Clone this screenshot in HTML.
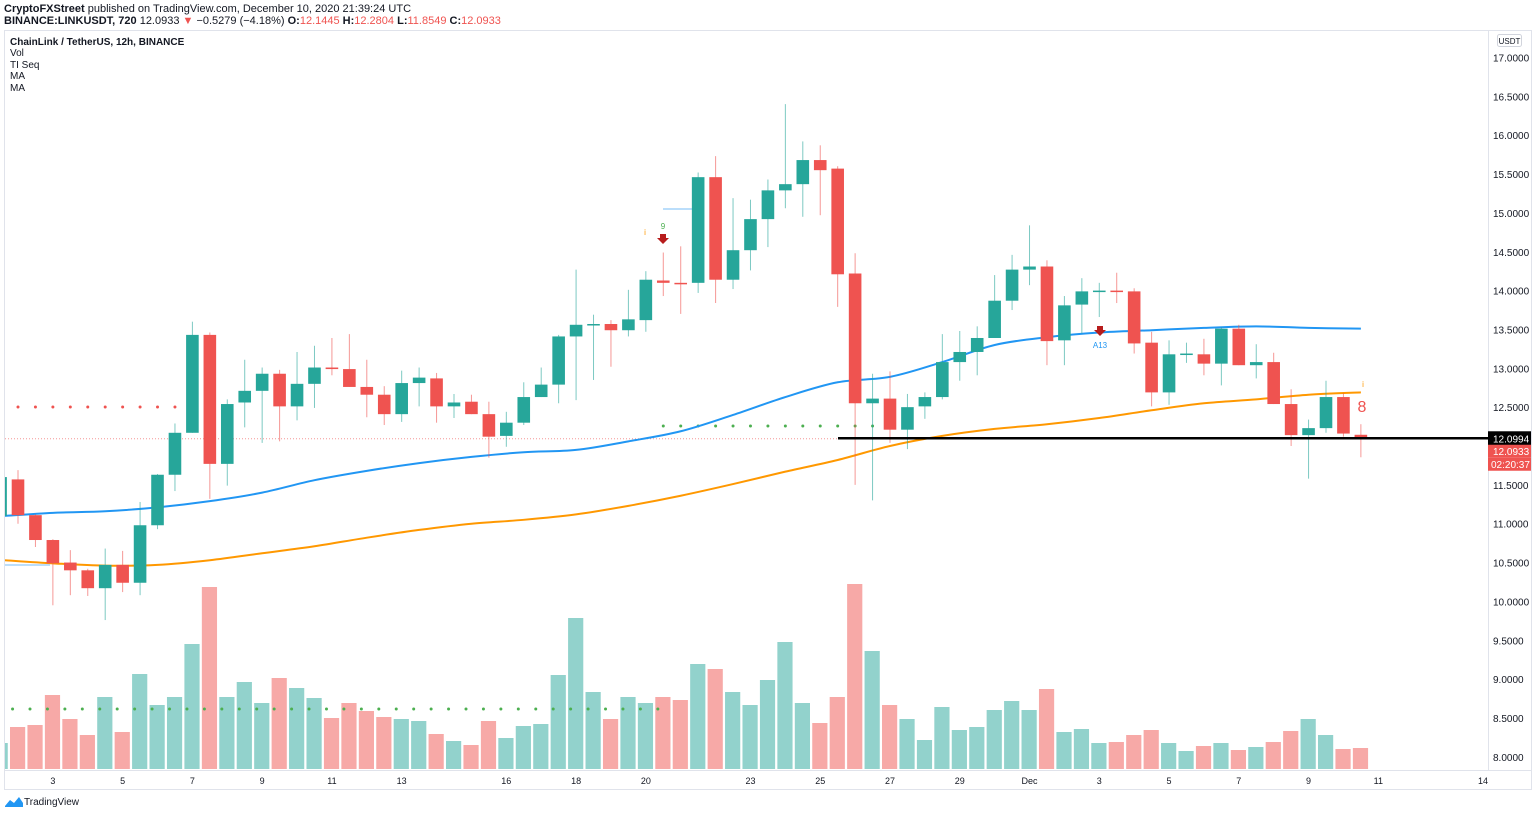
<!DOCTYPE html>
<html><head><meta charset="utf-8">
<style>
html,body{margin:0;padding:0;background:#fff;width:1536px;height:814px;overflow:hidden;font-family:"Liberation Sans",sans-serif;}
svg{display:block}
</style></head>
<body>
<svg id="chart" width="1536" height="814" xmlns="http://www.w3.org/2000/svg" font-family="Liberation Sans, sans-serif">
  <defs><clipPath id="pane"><rect x="5" y="31" width="1483" height="739"/></clipPath></defs>
  <text x="4" y="12" font-size="11" fill="#131722"><tspan font-weight="bold">CryptoFXStreet</tspan> published on TradingView.com, December 10, 2020 21:39:24 UTC</text>
  <text x="4" y="24" font-size="11" fill="#131722"><tspan font-weight="bold">BINANCE:LINKUSDT, 720</tspan> 12.0933 <tspan fill="#ef5350">▼</tspan> −0.5279 (−4.18%) <tspan font-weight="bold">O:</tspan><tspan fill="#ef5350">12.1445</tspan> <tspan font-weight="bold">H:</tspan><tspan fill="#ef5350">12.2804</tspan> <tspan font-weight="bold">L:</tspan><tspan fill="#ef5350">11.8549</tspan> <tspan font-weight="bold">C:</tspan><tspan fill="#ef5350">12.0933</tspan></text>
  <rect x="4.5" y="30.5" width="1527" height="759" fill="none" stroke="#e0e3eb"/>
  <line x1="1488.5" y1="30" x2="1488.5" y2="770" stroke="#e0e3eb"/>
  <line x1="4" y1="770.5" x2="1531" y2="770.5" stroke="#e0e3eb"/>
  <text x="10" y="45" font-size="10" font-weight="bold" fill="#131722">ChainLink / TetherUS, 12h, BINANCE</text>
  <text x="10" y="56" font-size="10" fill="#131722">Vol</text>
  <text x="10" y="68" font-size="10" fill="#131722">TI Seq</text>
  <text x="10" y="79" font-size="10" fill="#131722">MA</text>
  <text x="10" y="91" font-size="10" fill="#131722">MA</text>
  <rect x="1497.5" y="34.5" width="24" height="12" rx="2" fill="#fff" stroke="#d1d4dc"/>
  <text x="1509.5" y="44" font-size="8" fill="#131722" text-anchor="middle">USDT</text>
  <g id="ticks"></g>
  <g id="vol" clip-path="url(#pane)"></g>
  <g id="ind" clip-path="url(#pane)"></g>
  <g id="ma" clip-path="url(#pane)"></g>
  <g id="candles" clip-path="url(#pane)"></g>
  <g id="overlay"></g>
  <g>
    <path d="M5 806 L10 800 L14 803 L19 797 L23 803 L23 807 L5 807 Z" fill="#2196f3"/>
    <text x="24" y="805" font-size="10" fill="#131722">TradingView</text>
  </g>
</svg>
<script>
const opens  = [11.10,11.57,11.11,10.79,10.50,10.40,10.17,10.47,10.24,10.98,11.63,12.17,13.43,11.77,12.56,12.71,12.93,12.51,12.80,13.01,12.99,12.76,12.66,12.41,12.81,12.87,12.51,12.57,12.41,12.13,12.30,12.63,12.79,13.41,13.56,13.57,13.49,13.62,14.13,14.10,14.10,15.46,14.14,14.52,14.92,15.29,15.37,15.68,15.57,14.22,12.55,12.61,12.21,12.51,12.63,13.08,13.21,13.39,13.87,14.27,14.31,13.36,13.82,13.99,14.00,13.99,13.33,12.69,13.18,13.18,13.06,13.51,13.04,13.08,12.54,12.14,12.23,12.63,12.1445];
const highs  = [11.65,11.69,11.12,10.80,10.66,10.42,10.68,10.65,11.28,11.64,12.29,13.60,13.46,12.60,13.11,13.01,12.98,13.21,13.29,13.39,13.44,13.11,12.77,12.97,13.01,12.94,12.67,12.66,12.57,12.44,12.82,13.01,13.43,14.27,13.69,13.62,14.01,14.25,14.49,14.57,15.52,15.73,15.19,15.17,15.43,16.40,15.92,15.87,15.60,14.48,12.93,12.96,12.67,12.69,13.44,13.48,13.54,14.20,14.46,14.84,14.39,13.93,14.16,14.10,14.23,14.03,13.47,13.36,13.33,13.38,13.53,13.56,13.31,13.20,12.73,12.34,12.84,12.68,12.2804];
const lows   = [11.05,11.00,10.70,9.95,10.08,10.07,9.76,10.12,10.08,10.93,11.42,12.17,11.32,11.49,12.24,12.04,12.06,12.33,12.49,12.91,12.76,12.37,12.27,12.31,12.51,12.30,12.36,12.41,11.85,11.99,12.27,12.63,12.55,12.59,12.85,13.02,13.41,13.47,13.93,13.70,13.97,13.84,14.02,14.26,14.56,15.06,14.95,14.97,13.79,11.50,11.30,12.04,11.96,12.35,12.60,12.84,12.91,13.39,13.75,14.07,13.04,13.04,13.45,13.66,13.84,13.19,12.51,12.53,13.07,12.91,12.78,13.04,12.87,12.54,12.00,11.58,12.17,12.12,11.8549];
const closes = [11.60,11.11,10.79,10.49,10.40,10.17,10.47,10.24,10.98,11.63,12.17,13.43,11.77,12.54,12.71,12.93,12.51,12.80,13.01,12.99,12.76,12.66,12.41,12.81,12.88,12.51,12.56,12.41,12.12,12.30,12.63,12.79,13.41,13.56,13.57,13.49,13.63,14.14,14.10,14.09,15.46,14.14,14.52,14.92,15.29,15.37,15.68,15.55,14.21,12.55,12.61,12.21,12.50,12.63,13.08,13.21,13.39,13.87,14.27,14.31,13.35,13.81,13.99,14.00,13.99,13.32,12.69,13.18,13.19,13.06,13.51,13.04,13.08,12.54,12.14,12.23,12.63,12.16,12.0933];
const volumes = [26,42,44,74,50,34,72,37,95,64,72,125,182,72,87,66,91,81,71,51,66,58,52,50,48,35,28,24,48,31,43,45,94,151,77,50,72,66,72,69,105,100,77,64,89,127,66,46,72,185,118,64,50,29,62,39,42,59,68,59,80,37,40,26,27,34,39,26,18,23,26,19,22,27,38,50,34,20,21];
const maIndex = [0,3,6,9,12,15,18,21,24,27,30,33,36,39,42,45,48,51,54,57,60,63,66,69,72,75,78];
const maFast = [11.10,11.14,11.16,11.21,11.29,11.40,11.56,11.68,11.78,11.86,11.92,11.95,12.06,12.19,12.40,12.63,12.82,12.89,13.08,13.30,13.40,13.46,13.49,13.52,13.54,13.52,13.51];
const maSlow = [10.53,10.49,10.46,10.47,10.53,10.62,10.71,10.82,10.92,11.00,11.05,11.12,11.23,11.36,11.51,11.67,11.82,12.00,12.13,12.22,12.28,12.36,12.46,12.55,12.60,12.66,12.69];
const priceTicks = [8,8.5,9,9.5,10,10.5,11,11.5,12,12.5,13,13.5,14,14.5,15,15.5,16,16.5,17];
const dayTicks = [3,5,7,9,11,13,16,18,20,23,25,27,29,31,33,35,37,39,41,44];
const dayLabels = ['3','5','7','9','11','13','16','18','20','23','25','27','29','Dec','3','5','7','9','11','14'];
const redDotIdx = [1,2,3,4,5,6,7,8,9,10];
const greenDotIdx = [38,39,40,41,42,43,44,45,46,47,48,49,50];
const volDotIdx = [0,1,2,3,4,5,6,7,8,9,10,11,12,13,14,15,16,17,18,19,20,21,22,23,24,25,26,27,28,29,30,31,32,33,34,35,36,37];
const lastPrice = 12.0933, linePrice = 12.0994;

const NS='http://www.w3.org/2000/svg';
const GREEN='#26a69a', RED='#ef5350';
function xC(k){return 0.56+17.44*k;}
function yP(p){return 446-(p-12)*77.7;}
function yV(v){return 769-v;}
function xDay(d){return xC(3)+(d-3)*34.88;}
function mk(tag,attrs,parent){const e=document.createElementNS(NS,tag);for(const a in attrs)e.setAttribute(a,attrs[a]);parent.appendChild(e);return e;}

const gT=document.getElementById('ticks');
priceTicks.forEach(p=>{
  const t=mk('text',{x:1493,y:yP(p)+4,'font-size':10,fill:'#131722'},gT);
  t.textContent=p.toFixed(4);
  
  
});
dayTicks.forEach((d,i)=>{
  const t=mk('text',{x:xDay(d),y:784,'font-size':9,fill:'#131722','text-anchor':'middle'},gT);
  t.textContent=dayLabels[i];
  
  
});

const gV=document.getElementById('vol');
volumes.forEach((v,k)=>{
  const up=closes[k]>=opens[k];
  const x=xC(k)-8;
  const r=mk('rect',{x:x,y:yV(v),width:15.2,height:v,fill:up?'#92d2cc':'#f7a9a7'},gV);
  
  
});

const gI=document.getElementById('ind');
redDotIdx.forEach(k=>{const c=mk('circle',{cx:xC(k),cy:407,r:1.5,fill:RED},gI);});
greenDotIdx.forEach(k=>{const c=mk('circle',{cx:xC(k),cy:426,r:1.5,fill:'#4caf50'},gI);});
volDotIdx.forEach(k=>{const c=mk('circle',{cx:xC(k)+12,cy:709,r:1.5,fill:'#4caf50'},gI);});
const pl=mk('line',{x1:5,y1:yP(lastPrice),x2:1488,y2:yP(lastPrice),stroke:RED,'stroke-dasharray':'1 2','stroke-width':1,opacity:0.6},gI);


const bl=mk('line',{x1:5,y1:565,x2:50,y2:565,stroke:'#bbdefb','stroke-width':2},gI);


const bl2=mk('line',{x1:663,y1:209,x2:692,y2:209,stroke:'#bbdefb','stroke-width':2},gI);



const gM=document.getElementById('ma');
function maPath(vals,color,name){
  const pts=maIndex.map((k,i)=>[Math.max(5,xC(k)),yP(vals[i])]);
  let d='M'+pts[0][0]+','+pts[0][1];
  for(let i=1;i<pts.length;i++){
    const p0=pts[Math.max(0,i-2)],p1=pts[i-1],p2=pts[i],p3=pts[Math.min(pts.length-1,i+1)];
    const c1x=p1[0]+(p2[0]-p0[0])/6,c1y=p1[1]+(p2[1]-p0[1])/6;
    const c2x=p2[0]-(p3[0]-p1[0])/6,c2y=p2[1]-(p3[1]-p1[1])/6;
    d+=' C'+c1x+','+c1y+' '+c2x+','+c2y+' '+p2[0]+','+p2[1];
  }
  const e=mk('path',{d:d,fill:'none',stroke:color,'stroke-width':2},gM);
  
  
}
maPath(maFast,'#2196f3','ma-fast-line');
maPath(maSlow,'#ff9800','ma-slow-line');

const gC=document.getElementById('candles');
opens.forEach((o,k)=>{
  const c=closes[k],up=c>=o,col=up?GREEN:RED;
  const g=mk('g',{},gC);
  
  
  const x=xC(k);
  mk('line',{x1:x,y1:yP(highs[k]),x2:x,y2:yP(lows[k]),stroke:col,'stroke-width':1,opacity:0.6},g);
  const top=yP(Math.max(o,c)),h=Math.max(1.5,Math.abs(yP(o)-yP(c)));
  mk('rect',{x:x-6.3,y:top,width:12.6,height:h,fill:col},g);
});

const gO=document.getElementById('overlay');
const hl=mk('line',{x1:838,y1:yP(linePrice),x2:1488,y2:yP(linePrice),stroke:'#000','stroke-width':2.5},gO);


function txt(x,y,s,size,fill,name,extra){const t=mk('text',Object.assign({x:x,y:y,'font-size':size,fill:fill},extra||{}),gO);t.textContent=s;return t;}
txt(663,229,'9',8,'#4caf50','ti-seq-count-9',{'text-anchor':'middle'});
txt(645,235,'i',8,'#ff9800','ti-seq-mark',{'text-anchor':'middle'});
const a1=mk('path',{d:'M660,234 h6 v4 h3 l-6,6 l-6,-6 h3 z',fill:'#b71c1c'},gO);


const a2=mk('path',{d:'M1097,326 h6 v4 h3 l-6,6 l-6,-6 h3 z',fill:'#b71c1c'},gO);


txt(1100,348,'A13',8,'#2196f3','ti-seq-a13',{'text-anchor':'middle'});
txt(1362,412,'8',16,RED,'ti-seq-count-8',{'text-anchor':'middle'});
txt(1363,387,'i',8,'#ff9800','ti-seq-mark',{'text-anchor':'middle'});
const b1=mk('rect',{x:1488,y:yP(linePrice)-7,width:43,height:14,fill:'#000'},gO);


txt(1493,yP(linePrice)+4,linePrice.toFixed(4),10,'#fff','line-price-label');
const b2=mk('rect',{x:1488,y:yP(lastPrice)+6,width:43,height:13,fill:RED},gO);


txt(1493,yP(lastPrice)+16,lastPrice.toFixed(4),10,'#fff','last-price-label');
const b3=mk('rect',{x:1488,y:yP(lastPrice)+19,width:43,height:13,fill:RED},gO);


txt(1491,yP(lastPrice)+29,'02:20:37',10,'#fff','countdown-label');
</script>
</body></html>
